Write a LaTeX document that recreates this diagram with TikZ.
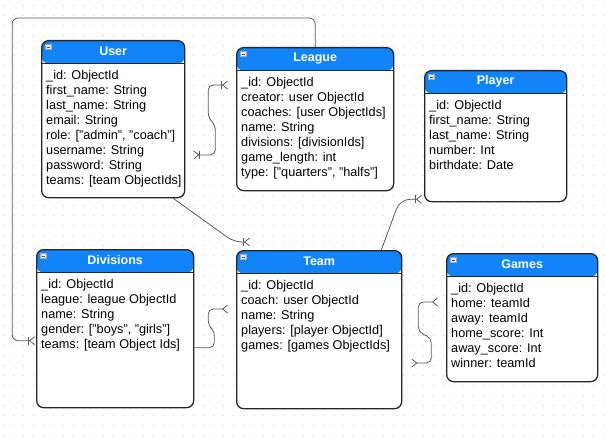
\documentclass[tikz,border=0pt]{standalone}
\usepackage{fontspec}
\setmainfont{Liberation Sans}
\usetikzlibrary{arrows.meta}
\definecolor{hdrblue}{RGB}{18,132,250}
\tikzset{
  entity/.style={draw=black!85, line width=1.3pt, rounded corners=7pt, fill=white,
    inner sep=0pt, anchor=north west,
    path picture={
      \fill[hdrblue] (path picture bounding box.north west) rectangle ([yshift=-23pt]path picture bounding box.north east);
      \draw[black!85, line width=1pt] ([yshift=-23pt]path picture bounding box.north west) -- ([yshift=-23pt]path picture bounding box.north east);}},
  title/.style={text=white, font=\fontsize{12.5}{14}\selectfont\bfseries},
  fields/.style={align=left, inner sep=0pt, anchor=north west, font=\fontsize{12.7}{15}\selectfont,
    execute at begin node=\rule{0pt}{10pt}},
  minus/.style={draw=gray!70, fill=gray!15, line width=0.4pt, minimum width=6pt, minimum height=5pt,
    inner sep=0pt, path picture={\draw[black!70, line width=0.8pt] ([xshift=1.5pt]path picture bounding box.west) -- ([xshift=-1.5pt]path picture bounding box.east);}},
  rel/.style={draw=black!65, line width=0.8pt, rounded corners=5pt},
}
\begin{document}
\begin{tikzpicture}[x=1pt, y=-1pt]
    \useasboundingbox (0,0) rectangle (605,441);
    % dotted grid
    \foreach \y in {5,15,...,435}
        \draw[gray!35, line width=0.8pt, dash pattern=on 0.8pt off 9.2pt] (3,\y) -- (605,\y);
    % tables
    \node[entity, minimum width=143pt, minimum height=157pt] (user) at (41,40) {};
    \node[entity, minimum width=157pt, minimum height=143pt] (league) at (236,47) {};
    \node[entity, minimum width=142pt, minimum height=131pt] (player) at (424,70) {};
    \node[entity, minimum width=157pt, minimum height=158pt] (divisions) at (36,249) {};
    \node[entity, minimum width=165pt, minimum height=158pt] (team) at (236,250) {};
    \node[entity, minimum width=151pt, minimum height=128pt] (games) at (446,253) {};
    \node[title] (user-t) at ([yshift=-11.5pt]user.north) {User};
    \node[title] (league-t) at ([yshift=-11.5pt]league.north) {League};
    \node[title] (player-t) at ([yshift=-11.5pt]player.north) {Player};
    \node[title] (divisions-t) at ([yshift=-11.5pt]divisions.north) {Divisions};
    \node[title] (team-t) at ([yshift=-11.5pt]team.north) {Team};
    \node[title] (games-t) at ([yshift=-11.5pt]games.north) {Games};
    \foreach \t in {user,league,player,divisions,team,games}
        \node[minus] at ([xshift=7.5pt,yshift=-7pt]\t.north west) {};
    \node[fields] (user-f) at ([xshift=5pt,yshift=-30pt]user.north west)
        {\_id: ObjectId\\first\_name: String\\last\_name: String\\email: String\\role: ["admin", "coach"]\\username: String\\password: String\\teams: [team ObjectIds]};
    \node[fields] (league-f) at ([xshift=5pt,yshift=-30pt]league.north west)
        {\_id: ObjectId\\creator: user ObjectId\\coaches: [user ObjectIds]\\name: String\\divisions: [divisionIds]\\game\_length: int\\type: ["quarters", "halfs"]};
    \node[fields] (player-f) at ([xshift=5pt,yshift=-30pt]player.north west)
        {\_id: ObjectId\\first\_name: String\\last\_name: String\\number: Int\\birthdate: Date};
    \node[fields] (divisions-f) at ([xshift=5pt,yshift=-30pt]divisions.north west)
        {\_id: ObjectId\\league: league ObjectId\\name: String\\gender: ["boys", "girls"]\\teams: [team Object Ids]};
    \node[fields] (team-f) at ([xshift=5pt,yshift=-30pt]team.north west)
        {\_id: ObjectId\\coach: user ObjectId\\name: String\\players: [player ObjectId]\\games: [games ObjectIds]};
    \node[fields] (games-f) at ([xshift=5pt,yshift=-30pt]games.north west)
        {\_id: ObjectId\\home: teamId\\away: teamId\\home\_score: Int\\away\_score: Int\\winner: teamId};
    % free ends
    \coordinate (team-in) at ([xshift=14pt,yshift=8pt]team.north west);
    \coordinate (player-in) at ([xshift=-2pt,yshift=3pt]player.south west);
    % relations
    \draw[rel, {Straight Barb[reversed,length=5pt,width=8pt] Bar[width=8pt]}-{Bar[width=8pt] Straight Barb[reversed,length=5pt,width=8pt]}, shorten <=8pt, shorten >=8pt]
        ([yshift=-115pt]user.north east) -| ++(30,-30) -- ++(-7,-7) |- ([yshift=-38pt]league.north west);
    \draw[rel, rounded corners=8pt, -{Bar[width=8pt] Straight Barb[reversed,length=5pt,width=8pt]}]
        ([xshift=60pt]user.south) -- ([xshift=-16pt]team-in) -- (team-in);
    \draw[rel, rounded corners=10pt, -{Bar[width=8pt] Straight Barb[reversed,length=5pt,width=8pt]}]
        ([xshift=-21pt]team.north east) -- ([xshift=-22pt]player-in) -- (player-in);
    \draw[rel, rounded corners=6pt, -{Bar[width=8pt] Straight Barb[reversed,length=5pt,width=8pt]}, shorten >=1pt]
        (league.north) |- ++(-303,-29) |- ([yshift=-12pt]divisions.west);
    \draw[rel, -{Straight Barb[reversed,length=5pt,width=8pt]}, shorten >=8pt]
        ([yshift=-19pt]divisions.east) -| ++(20,-17) -- ++(-6,-5) |- ([yshift=-59pt]team.north west);
    \draw[rel, {Straight Barb[reversed,length=5pt,width=8pt]}-{Straight Barb[reversed,length=5pt,width=8pt]}, shorten <=9pt, shorten >=8pt]
        ([yshift=-113pt]team.north east) -| ++(29,-25) -- ++(-13,-6) |- ([yshift=-49pt]games.north west);
\end{tikzpicture}
\end{document}
